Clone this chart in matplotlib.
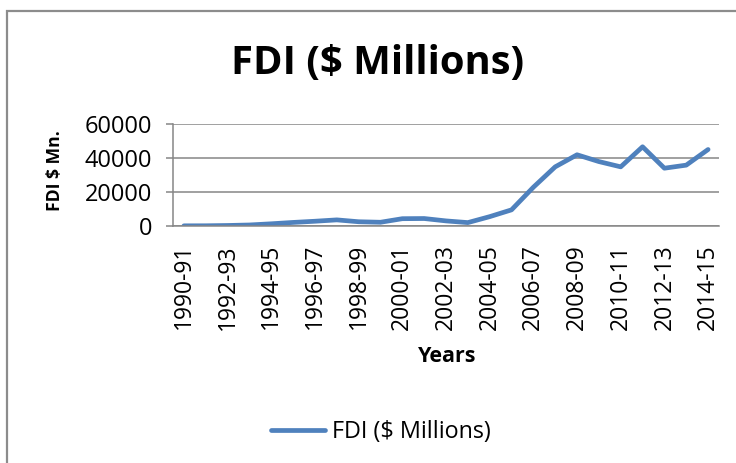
import matplotlib
matplotlib.use("Agg")
import matplotlib.pyplot as plt
from matplotlib.lines import Line2D
from matplotlib.patches import Rectangle

years = ["1990-91", "1991-92", "1992-93", "1993-94", "1994-95", "1995-96",
         "1996-97", "1997-98", "1998-99", "1999-00", "2000-01", "2001-02",
         "2002-03", "2003-04", "2004-05", "2005-06", "2006-07", "2007-08",
         "2008-09", "2009-10", "2010-11", "2011-12", "2012-13", "2013-14",
         "2014-15"]
fdi = [100, 130, 300, 600, 1300, 2100, 2800, 3600, 2500, 2200, 4300, 4400,
       3000, 2000, 5500, 9500, 22800, 34800, 41900, 37900, 34800, 46600,
       34000, 35800, 45000]
y_ticks = [0, 20000, 40000, 60000]

FONT = "Open Sans"
plt.rcParams["font.family"] = [FONT, "DejaVu Sans"]

W, H = 736, 463
fig = plt.figure(figsize=(W / 100, H / 100), dpi=100)

# outer chart border (top and left visible)
fig.patches.append(Rectangle((7 / W, -0.05), 1.2, (H - 11) / H + 0.05,
                             transform=fig.transFigure, fill=False,
                             edgecolor="#8c8c8c", linewidth=1.6))

ax = fig.add_axes([173 / W, 1 - 226 / H, (719 - 173) / W, (226 - 124) / H])
x = list(range(len(years)))
ax.plot(x, fdi, color="#4F81BD", linewidth=3.4, solid_capstyle="round",
        solid_joinstyle="round", label="FDI ($ Millions)")

ax.set_xlim(-0.5, len(years) - 0.5)
ax.set_ylim(0, 60000)
ax.set_yticks(y_ticks)
ax.set_yticklabels([str(v) for v in y_ticks])
ax.set_xticks(x[::2])
ax.set_xticklabels(years[::2], rotation=90)

ax.grid(axis="y", color="#868686", linewidth=1.1)
ax.set_axisbelow(True)
for s in ["top", "right"]:
    ax.spines[s].set_visible(False)
ax.spines["left"].set_color("#868686")
ax.spines["left"].set_linewidth(1.1)
ax.spines["bottom"].set_color("#868686")
ax.spines["bottom"].set_linewidth(1.1)

ax.tick_params(axis="y", length=5, width=1.1, color="#868686", pad=10,
               labelsize=17, labelcolor="black")
ax.tick_params(axis="x", length=0, pad=13, labelsize=16.5, labelcolor="black")

fig.text(378 / W, 1 - 63 / H, "FDI ($ Millions)", ha="center", va="center",
         fontsize=28.8, fontweight="bold")
fig.text(55 / W, 1 - 171 / H, "FDI $ Mn.", ha="center", va="center",
         rotation=90, fontsize=12.6, fontweight="bold")
fig.text(447 / W, 1 - 357 / H, "Years", ha="center", va="center",
         fontsize=15.5, fontweight="bold")

# legend at bottom
handles = [Line2D([], [], color="#4F81BD", linewidth=3.4,
                  solid_capstyle="round")]
fig.legend(handles, ["FDI ($ Millions)"], loc="center",
           bbox_to_anchor=(381 / W, 1 - 432 / H), frameon=False,
           fontsize=16.8, handlelength=2.3, handletextpad=0.3)

fig.savefig("out.png", dpi=100)
